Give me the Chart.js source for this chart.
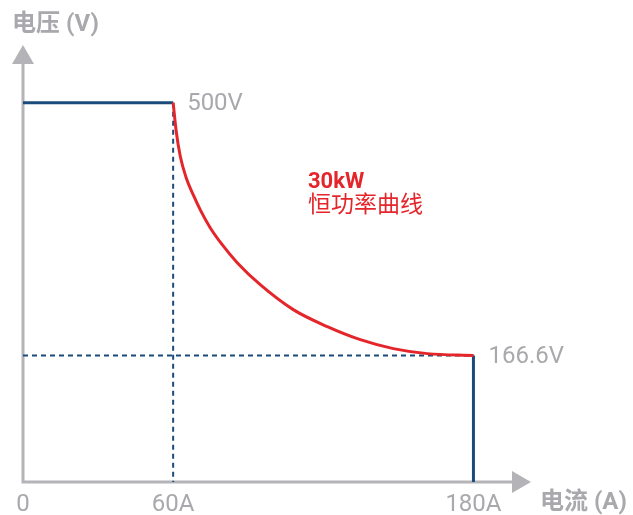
<!DOCTYPE html>
<html>
<head>
<meta charset="utf-8">
<title>恒功率曲线</title>
<script src="https://cdn.jsdelivr.net/npm/chart.js@4.4.1/dist/chart.umd.min.js"></script>
<style>
  html, body { margin: 0; padding: 0; background: #fff; }
  #wrap { width: 633px; height: 515px; }
</style>
</head>
<body>
<div id="wrap"><canvas id="chartVI" width="633" height="515"></canvas></div>
<script>
// Data (A, V)
var curveI = [60, 61.2, 62.8, 65.2, 68, 71.2, 74.8, 79.6, 85.6, 94.8, 108, 121.6, 134.8, 148, 161.6, 180];
var curveV = [500, 463, 430, 401, 378.7, 356.3, 335.2, 312.8, 289.1, 260.1, 227.2, 204.8, 187.6, 175.8, 169.2, 166.6];
var topI = [0, 60];
var topV = [500, 500];
var dropI = [180, 180];
var dropV = [166.6, 0];
var dashVI = [60, 60];
var dashVV = [500, 0];
var dashHI = [0, 180];
var dashHV = [166.6, 166.6];

var tickValues = [0, 60, 180];
var tickLabels = ['0', '60A', '180A'];
var voltMarks = [500, 166.6];
var voltLabels = ['500V', '166.6V'];

var navy = '#1b4b7b';
var red = '#e4262b';
var gray = '#b4b4b8';
var textGray = '#a9a9ad';
var fontFamily = 'Roboto, "Noto Sans CJK SC", sans-serif';

function toPoints(xs, ys) {
    return xs.map(function (x, i) { return { x: x, y: ys[i] }; });
}

// axes with arrow heads + text labels
var decorations = {
    id: 'decorations',
    beforeDatasetsDraw: function (chart) {
        var ctx = chart.ctx;
        var xs = chart.scales.x;
        var ys = chart.scales.y;
        var x0 = xs.getPixelForValue(0);
        var y0 = ys.getPixelForValue(0);
        var top = chart.chartArea.top;
        var right = chart.chartArea.right;
        ctx.save();
        ctx.strokeStyle = gray;
        ctx.fillStyle = gray;
        ctx.lineWidth = 3;
        ctx.lineCap = 'square';
        ctx.beginPath();
        ctx.moveTo(x0, top + 10);
        ctx.lineTo(x0, y0);
        ctx.lineTo(right - 10, y0);
        ctx.stroke();
        // up arrow
        ctx.beginPath();
        ctx.moveTo(x0, top);
        ctx.lineTo(x0 - 11, top + 19);
        ctx.lineTo(x0 + 11, top + 19);
        ctx.closePath();
        ctx.fill();
        // right arrow
        ctx.beginPath();
        ctx.moveTo(right, y0);
        ctx.lineTo(right - 19, y0 - 11);
        ctx.lineTo(right - 19, y0 + 11);
        ctx.closePath();
        ctx.fill();
        ctx.restore();
    },
    afterDraw: function (chart) {
        var ctx = chart.ctx;
        var xs = chart.scales.x;
        var ys = chart.scales.y;
        ctx.save();
        ctx.fillStyle = textGray;
        ctx.font = '24px ' + fontFamily;
        ctx.textAlign = 'center';
        ctx.textBaseline = 'alphabetic';
        tickValues.forEach(function (v, i) {
            ctx.fillText(tickLabels[i], xs.getPixelForValue(v), 511);
        });
        ctx.textAlign = 'left';
        ctx.textBaseline = 'middle';
        ctx.fillText(voltLabels[0], xs.getPixelForValue(60) + 14, ys.getPixelForValue(voltMarks[0]) + 1);
        ctx.fillText(voltLabels[1], xs.getPixelForValue(180) + 15, ys.getPixelForValue(voltMarks[1]) + 1);

        ctx.font = 'bold 24px ' + fontFamily;
        ctx.textBaseline = 'alphabetic';
        ctx.fillText('电压 (V)', 12, 31);
        ctx.fillText('电流 (A)', 540, 509);

        ctx.fillStyle = red;
        ctx.font = 'bold 22px ' + fontFamily;
        ctx.fillText('30kW', 308, 188);
        ctx.font = '23px ' + fontFamily;
        ctx.fillText('恒功率曲线', 308, 212);
        ctx.restore();
    }
};

var ctx = document.getElementById('chartVI').getContext('2d');
var myChart = new Chart(ctx, {
    type: 'line',
    data: {
        datasets: [
            {
                data: toPoints(curveI, curveV),
                borderColor: red,
                borderWidth: 3,
                cubicInterpolationMode: 'monotone',
                pointRadius: 0,
                clip: false
            },
            {
                data: toPoints(topI, topV),
                borderColor: navy,
                borderWidth: 3,
                pointRadius: 0,
                clip: false
            },
            {
                data: toPoints(dropI, dropV),
                borderColor: navy,
                borderWidth: 3,
                pointRadius: 0,
                clip: false
            },
            {
                data: toPoints(dashVI, dashVV),
                borderColor: navy,
                borderWidth: 2,
                borderDash: [5, 4],
                pointRadius: 0,
                clip: false
            },
            {
                data: toPoints(dashHI, dashHV),
                borderColor: navy,
                borderWidth: 2,
                borderDash: [5, 4],
                pointRadius: 0,
                clip: false
            }
        ]
    },
    options: {
        responsive: false,
        animation: false,
        layout: {
            padding: { left: 23, right: 102, top: 45, bottom: 33 }
        },
        plugins: {
            legend: { display: false },
            tooltip: { enabled: false }
        },
        scales: {
            x: { type: 'linear', min: 0, max: 203, display: false },
            y: { type: 'linear', min: 0, max: 576, display: false }
        }
    },
    plugins: [decorations]
});
</script>
</body>
</html>
